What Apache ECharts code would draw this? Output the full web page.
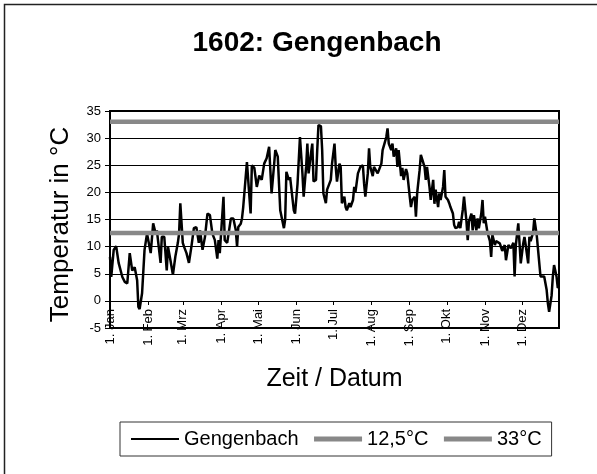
<!DOCTYPE html>
<html>
<head>
<meta charset="utf-8">
<script src="https://cdn.jsdelivr.net/npm/echarts@6/dist/echarts.min.js"></script>
<style>
  html, body { margin: 0; padding: 0; background: #fff; }
  #chart_box { width: 597px; height: 474px; }
</style>
</head>
<body>
<div id="chart_box"></div>
<script>
// month names and lengths for the day categories
const monthNames = ['Jan', 'Feb', 'Mrz', 'Apr', 'Mai', 'Jun', 'Jul', 'Aug', 'Sep', 'Okt', 'Nov', 'Dez']
const monthDays = [31, 28, 31, 30, 31, 30, 31, 31, 30, 31, 30, 31]

// day of year (0 = 1. Jan) and temperature
const dayIdx = [
  0, 1, 3, 5, 7, 10, 12, 14, 16, 18, 20, 22, 23, 24, 26, 28, 30, 33, 35, 37, 38, 41, 42, 44, 46, 47, 49, 51, 53, 55,
  56, 57, 59, 60, 62, 64, 66, 68, 70, 72, 73, 75, 77, 79, 81, 83, 85, 87, 88, 89, 92, 93, 95, 98, 100, 102, 103, 104, 106, 107,
  108, 111, 114, 115, 117, 119, 121, 123, 125, 127, 129, 130, 131, 133, 134, 136, 138, 141, 142, 143, 145, 146, 149, 150, 152, 154,
  156, 157, 159, 160, 161, 163, 164, 165, 167, 168, 169, 171, 172, 173, 175, 176, 179, 180, 182, 183, 184, 186, 187, 188,
  190, 191, 192, 194, 195, 197, 198, 199, 201, 203, 205, 206, 207, 209, 210, 211, 213, 214, 215, 217, 220, 221, 222, 224, 225,
  226, 228, 229, 230, 232, 233, 234, 236, 237, 238, 240, 241, 243, 244, 245, 247, 248, 249, 251, 252, 253, 255, 256, 257, 259,
  260, 262, 263, 264, 266, 267, 268, 270, 271, 272, 274, 275, 276, 278, 279, 280, 282, 283, 284, 286, 287, 289, 290, 291, 293,
  294, 295, 297, 298, 299, 301, 302, 303, 304, 306, 308, 309, 310, 312, 313, 316, 318, 320, 321, 323, 325, 327, 328, 329, 331,
  332, 333, 335, 336, 337, 339, 340, 341, 343, 344, 345, 346, 349, 350, 352, 354, 355, 356, 358, 359, 360, 362, 363, 364
]
const gengenbach = [
  8.1, 4.4, 9.4, 10.1, 7, 4.4, 3.5, 3.2, 8.8, 5.6, 6.2, 3.8, -1.1, -1.5, 1.4, 9.4, 12.4, 8.8, 14.3, 12.4, 13, 7, 11.8, 11.8, 5.6, 10, 7.5, 4.8, 8.2, 10.7,
  12.4, 18, 10.7, 10, 8.8, 7, 10, 13.4, 13.6, 10.7, 13, 9.4, 11.8, 16.1, 15.8, 12.4, 11.2, 7.8, 11.2, 8.8, 19.2, 11.2, 10.7, 15.2, 15.2, 13, 10, 13.6, 14.2, 15.2,
  17.3, 25.6, 16.1, 25, 24.5, 21, 23.1, 22.3, 25.3, 26.3, 28.4, 28.7, 19.8, 25, 27.8, 26.6, 16.7, 13.4, 15, 23.8, 22.3, 22.8, 16.7, 16.1, 21.5, 30.2,
  23.5, 19.2, 24.7, 29, 23.5, 27.3, 29, 22, 22.3, 27.8, 32.4, 32.2, 27.8, 19.8, 18, 20.5, 22.3, 25.3, 29, 24.7, 22, 25.3, 24.7, 18,
  19.2, 17.3, 16.7, 18, 17.3, 18.6, 21, 20.1, 23.5, 24.7, 25, 21.6, 19.2, 23.5, 28.1, 24.7, 23, 24.7, 24.9, 23.5, 25.3, 27.8, 28.1, 30.2, 31.8,
  29, 27.8, 29, 26.6, 28.1, 24.7, 27.8, 23, 24.5, 22.3, 24.3, 23.5, 19.2, 17.3, 18.6, 19.2, 15.5, 19.8, 24.1, 26.9, 26.6, 24.7, 22.3, 24.7, 21,
  18.6, 22.3, 17.9, 20.5, 17.3, 19.8, 18.6, 21, 24.1, 19.2, 18.6, 18, 17.3, 16.1, 14, 13.4, 13.6, 14.6, 13.4, 16.8, 19.2, 14.6, 11.2, 14.6, 16.1,
  13, 15.8, 13, 15.2, 13.4, 16.1, 18.6, 14.3, 15.5, 12.6, 11, 8.1, 12.2, 10.3, 11, 10.6, 9.2, 10.3, 7.5, 10.3, 9.7, 10.7, 4.5, 10.3, 14.3,
  14, 6.9, 10.6, 11.8, 10.3, 6.9, 11.8, 11, 12.6, 15.2, 14.9, 12, 4.5, 4.3, 4.5, 2, -0.5, -2, 1, 4.5, 6.6, 4.5, 2.4, 2.6
]
// reference temperatures
const limitNames = ['12,5°C', '33°C']
const limitValues = [12.5, 33]
const yTicks = { min: -5, max: 35, step: 5 }

const font = 'Liberation Sans, Arial, sans-serif'

// day categories "1. Jan" ... "31. Dez"
const dayLabels = []
monthNames.forEach((m, i) => {
  for (let d = 1; d <= monthDays[i]; d++) dayLabels.push(d + '. ' + m)
})
const lastDay = dayLabels.length - 1
const isMonthStart = (index, value) => value.indexOf('1. ') === 0

var myChart = echarts.init(document.getElementById('chart_box'))
var option

option = {
  animation: false,
  textStyle: { fontFamily: font },
  graphic: [{
    type: 'rect',
    shape: { x: 4.5, y: 4.5, width: 620, height: 500 },
    style: { fill: 'none', stroke: '#222', lineWidth: 1.5 },
    silent: true
  }],
  title: {
    text: '1602: Gengenbach',
    left: 317,
    top: 29,
    padding: 0,
    textAlign: 'center',
    textStyle: { fontFamily: font, fontSize: 28, fontWeight: 'bold', color: '#000' }
  },
  legend: {
    left: 120,
    top: 422,
    padding: [7, 10],
    borderColor: '#333',
    borderWidth: 1,
    itemGap: 13,
    itemWidth: 48,
    itemHeight: 10,
    itemStyle: { opacity: 0 },
    textStyle: { fontFamily: font, fontSize: 20, color: '#000' },
    data: [{ name: 'Gengenbach', lineStyle: { width: 2 } }].concat(limitNames.map(n => ({ name: n, lineStyle: { width: 5 } })))
  },
  grid: {
    left: 110,
    top: 111,
    width: 449,
    height: 217,
    show: true,
    borderColor: '#000',
    borderWidth: 2
  },
  xAxis: {
    type: 'category',
    boundaryGap: false,
    data: dayLabels,
    // axis sits on the 0 line, like the original
    offset: -27,
    name: 'Zeit / Datum',
    nameLocation: 'middle',
    nameGap: 66,
    nameTextStyle: { fontFamily: font, fontSize: 25, color: '#000' },
    axisLine: { onZero: false, lineStyle: { color: '#000', width: 1 } },
    axisTick: { interval: isMonthStart, length: 4, lineStyle: { color: '#000' } },
    axisLabel: { interval: isMonthStart, rotate: 90, margin: 8, fontSize: 13, color: '#000', fontFamily: font },
    splitLine: { show: false }
  },
  yAxis: {
    type: 'value',
    min: yTicks.min,
    max: yTicks.max,
    interval: yTicks.step,
    name: 'Temperatur in °C',
    nameLocation: 'middle',
    nameRotate: 90,
    nameGap: 36,
    nameTextStyle: { fontFamily: font, fontSize: 26, color: '#000', padding: [0, 10, 0, 0] },
    axisLine: { show: true, lineStyle: { color: '#000', width: 2 } },
    axisTick: { show: true, length: 5, lineStyle: { color: '#000' } },
    axisLabel: { margin: 9, fontSize: 13, color: '#000', fontFamily: font },
    splitLine: { lineStyle: { color: '#000', width: 1 } }
  },
  series: [
    {
      name: 'Gengenbach',
      type: 'line',
      symbol: 'none',
      lineStyle: { color: '#000', width: 2.5 },
      itemStyle: { color: '#000' },
      data: dayIdx.map((d, i) => [d, gengenbach[i]])
    }
  ].concat(limitNames.map((n, i) => ({
    name: n,
    type: 'line',
    symbol: 'none',
    lineStyle: { color: '#888', width: 4.5 },
    itemStyle: { color: '#888' },
    data: [[0, limitValues[i]], [lastDay, limitValues[i]]]
  })))
}

option && myChart.setOption(option)
</script>
</body>
</html>
